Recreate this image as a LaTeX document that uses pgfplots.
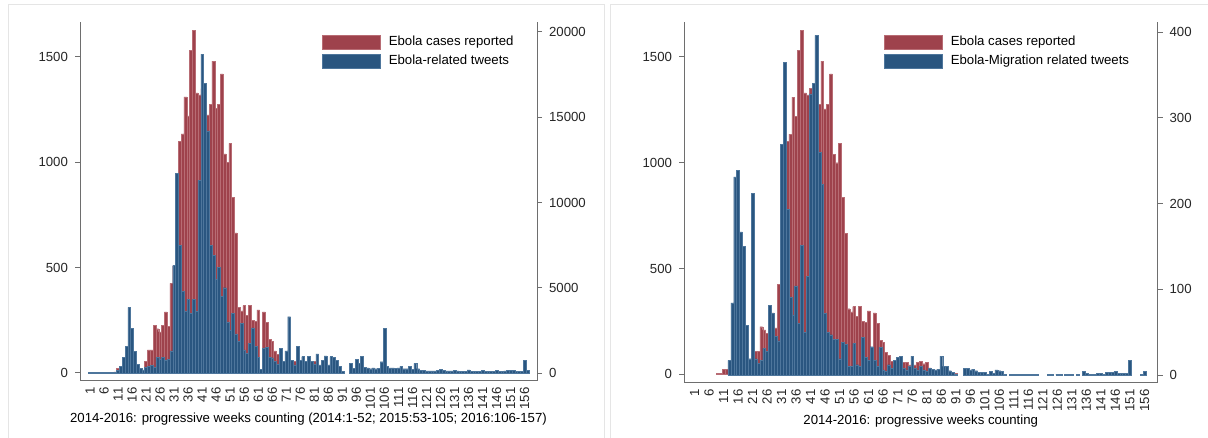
\documentclass[border=0pt]{standalone}
\usepackage{fontspec}
\setmainfont{Liberation Sans}
\usepackage{pgfplots}
\usepackage{pgfplotstable}
\pgfplotsset{compat=1.18}
\definecolor{redF}{RGB}{158,66,76}
\definecolor{redD}{RGB}{184,108,116}
\definecolor{bluF}{RGB}{42,86,128}
\definecolor{bluD}{RGB}{78,118,156}
\definecolor{axgray}{RGB}{110,110,110}
\newcommand\fs{\fontsize{6.6}{7.9}\selectfont}

% w = week, c = cases, t = Ebola tweets, m = Ebola-migration tweets
\pgfplotstableread{
w c t m
1 nan 40 nan
2 nan 40 nan
3 nan 40 nan
4 nan 40 nan
5 nan 40 nan
6 nan 40 nan
7 nan 40 nan
8 nan 40 nan
9 3 40 nan
10 5 40 nan
11 22 150 nan
12 22 370 nan
13 20 920 17
14 15 1580 84
15 15 3850 231
16 15 2600 239
17 10 1250 167
18 10 500 150
19 8 270 58
20 12 180 19
21 55 330 212
22 110 370 19
23 110 460 14
24 225 330 17
25 210 920 31
26 195 800 28
27 225 920 81
28 290 760 72
29 220 800 45
30 425 1300 40
31 510 6300 269
32 735 11700 365
33 1100 7500 193
34 1135 4800 91
35 1310 3600 70
36 1220 4300 104
37 1530 3500 60
38 1625 4300 151
39 1330 3600 50
40 1320 11300 115
41 1350 18700 328
42 1370 17000 340
43 1225 14200 396
44 1275 7500 260
45 1480 6900 222
46 1255 5500 72
47 1275 6200 50
48 1420 4500 47
49 1040 5000 42
50 1000 3000 42
51 1090 2500 19
52 835 3500 38
53 665 2300 36
54 310 1850 10
55 295 2900 10
56 320 1350 37
57 275 1150 12
58 320 1750 10
59 250 2650 44
60 245 1550 21
61 300 900 17
62 8 200 33
63 290 1450 17
64 240 1500 10
65 160 900 32
66 150 880 6
67 105 680 4
68 90 500 12
69 60 1450 8
70 50 700 17
71 45 1300 21
72 40 3300 22
73 55 760 8
74 55 470 6
75 45 1545 10
76 40 760 22
77 45 960 8
78 55 700 6
79 60 960 10
80 50 665 6
81 55 500 4
82 30 1115 8
83 25 470 7
84 20 760 6
85 15 1000 7
86 10 470 22
87 8 960 10
88 5 900 10
89 5 760 5
90 3 370 3
91 3 100 1
92 nan nan nan
93 nan nan nan
94 nan 570 8
95 3 270 8
96 3 800 6
97 nan 570 7
98 nan 960 5
99 nan 330 3
100 nan 300 3
101 nan 250 3
102 nan 300 1
103 nan 250 4
104 nan 280 2
105 nan 660 6
106 nan 2620 5
107 nan 410 4
108 nan 300 1
109 nan 300 nan
110 nan 280 1
111 nan 300 1
112 nan 400 1
113 nan 250 1
114 nan 250 1
115 nan 380 1
116 nan 200 1
117 nan 570 1
118 nan 250 1
119 nan 150 1
120 nan 150 nan
121 nan 130 nan
122 nan 130 nan
123 nan 120 1
124 nan 130 1
125 nan 140 nan
126 nan 220 1
127 nan 150 1
128 nan 130 nan
129 nan 120 1
130 nan 130 1
131 nan 170 1
132 nan 120 nan
133 nan 110 1
134 nan 110 nan
135 nan 100 4
136 nan 180 2
137 nan 100 1
138 nan 90 1
139 nan 90 1
140 nan 100 2
141 nan 150 2
142 nan 100 1
143 nan 90 3
144 nan 90 3
145 nan 100 3
146 nan 140 4
147 nan 90 2
148 nan 90 2
149 nan 120 2
150 nan 150 2
151 nan 170 17
152 nan 160 nan
153 nan 90 nan
154 nan 90 nan
155 nan 100 1
156 nan 760 4
157 nan 170 nan
}\wk

\pgfplotsset{
  legbox/.style={legend image code/.code={\draw[##1] (0pt,-3.6pt) rectangle (29pt,3.6pt);}},
  redbar/.style={fill=redF, draw=redD, line width=0.2pt},
  blubar/.style={fill=bluF, draw=bluD, line width=0.2pt},
  stbase/.style={scale only axis, anchor=south west,
    tick label style={font=\fs, color=black!85},
    /pgf/number format/assume math mode=true,
    /pgf/number format/1000 sep={},
    scaled y ticks=false,
    axis line style={axgray, line width=0.5pt, -},
    tick style={axgray, line width=0.5pt},
    tick align=outside,
    major tick length=2.5pt,
  },
  xweeks/.style={xtick={1,6,...,156},
    xtick style={draw=none},
    xticklabel style={rotate=90, anchor=east, inner sep=0.5pt},
    xticklabel shift=0pt},
  leg/.style={legend style={at={(#1,0.969)}, anchor=north west, draw=none, fill=none,
    font=\fs, inner sep=0pt, row sep=1.3pt,
    nodes={inner sep=1pt, text height=5pt, text depth=1.4pt},
    /tikz/every odd column/.append style={column sep=3pt}},
    legend cell align=left},
}

\begin{document}
\begin{tikzpicture}
\path[use as bounding box] (0,0) rectangle (604pt,219pt);
\draw[black!10, line width=0.5pt] (4pt,0) -- (4pt,216.5pt) -- (302pt,216.5pt) -- (302pt,0);
\draw[black!10, line width=0.5pt] (305pt,0) -- (305pt,216.5pt) -- (604pt,216.5pt);

% left panel
\begin{axis}[stbase, at={(40pt,28.5pt)}, width=228.5pt, height=179.5pt,
  xmin=-2.57, xmax=160.4, ymin=-38, ymax=1666,
  axis y line*=left, axis x line*=bottom, xweeks,
  ytick={0,500,1000,1500},
  xlabel={2014-2016: progressive weeks counting (2014:1-52; 2015:53-105; 2016:106-157)},
  xlabel style={font=\fs, at={(axis description cs:0.5,-0.105)}, anchor=center},
]
\addplot[ybar, bar width=1, redbar] table[x=w,y=c]{\wk};
\end{axis}
\begin{axis}[stbase, at={(40pt,28.5pt)}, width=228.5pt, height=179.5pt,
  xmin=-2.57, xmax=160.4, ymin=-469, ymax=20586,
  axis y line*=right, axis x line=none, xtick=\empty,
  ytick={0,5000,10000,15000,20000},
  leg=0.5295,
]
\addlegendimage{redbar, legbox}
\addlegendentry{Ebola cases reported}
\addplot[ybar, bar width=1, blubar, legbox] table[x=w,y=t]{\wk};
\addlegendentry{Ebola-related tweets}
\end{axis}

% right panel
\begin{axis}[stbase, at={(342pt,27.5pt)}, width=236.75pt, height=180.5pt,
  xmin=-2.62, xmax=160.5, ymin=-41, ymax=1665,
  axis y line*=left, axis x line*=bottom, xweeks,
  ytick={0,500,1000,1500},
  xlabel={2014-2016: progressive weeks counting},
  xlabel style={font=\fs, at={(axis description cs:0.5,-0.106)}, anchor=center},
]
\addplot[ybar, bar width=1, redbar] table[x=w,y=c]{\wk};
\end{axis}
\begin{axis}[stbase, at={(342pt,27.5pt)}, width=236.75pt, height=180.5pt,
  xmin=-2.62, xmax=160.5, ymin=-9.3, ymax=411.7,
  axis y line*=right, axis x line=none, xtick=\empty,
  ytick={0,100,200,300,400},
  leg=0.4224,
]
\addlegendimage{redbar, legbox}
\addlegendentry{Ebola cases reported}
\addplot[ybar, bar width=1, blubar, legbox] table[x=w,y=m]{\wk};
\addlegendentry{Ebola-Migration related tweets}
\end{axis}
\end{tikzpicture}
\end{document}
